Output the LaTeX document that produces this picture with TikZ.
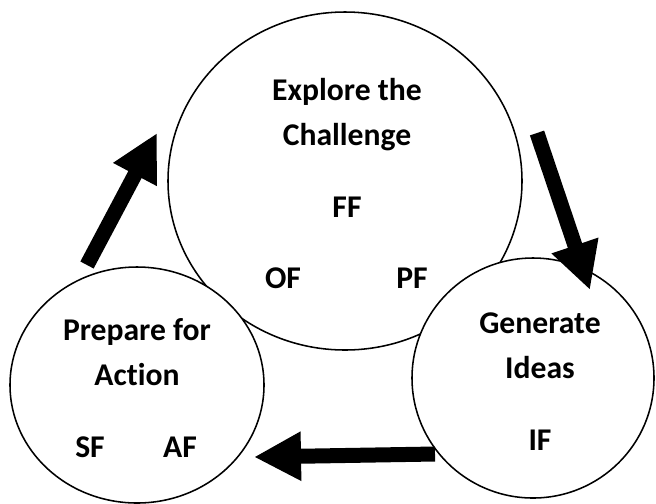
\documentclass[tikz,border=0pt]{standalone}
\usepackage{fontspec}
\setmainfont{Carlito}[Ligatures=NoCommon]
\usetikzlibrary{arrows.meta,positioning,shapes.geometric}

\begin{document}
\begin{tikzpicture}
		\tikzset{
			phase/.style={ellipse, draw=black, fill=white, line width=1.1pt, inner sep=0pt},
			lbl/.style={font=\bfseries\fontsize{22.5}{32}\selectfont, align=center, inner sep=0pt},
			bigarrow/.style={line width=0.375cm, -{Triangle[width=1.15cm, length=1.175cm]}}
		}
		\useasboundingbox (0,0) rectangle (16.4,-12.575);

		% The three phases (right one lies on top)
		\node[phase, minimum width=8.85cm, minimum height=8.45cm] (explore) at (8.625,-4.525) {};
		\node[phase, minimum width=6.35cm, minimum height=5.9cm] (prepare) at (3.425,-9.625) {};
		\node[phase, minimum width=6.05cm, minimum height=6cm] (generate) at (13.325,-9.45) {};

		% Labels in the big one
		\node[lbl] (exploretxt) at (8.675,-2.86) {Explore the\\Challenge};
		\node[lbl] (ff) at (8.675,-5.175) {FF};
		\node[lbl] (of) at (7.075,-6.95) {OF};
		\node[lbl] (pf) at (10.3,-6.95) {PF};

		% Labels in the right one
		\node[lbl] (generatetxt) at (13.5,-8.64) {Generate\\Ideas};
		\node[lbl] (if) at (13.5,-11.0) {IF};

		% Labels in the left one
		\node[lbl] (preparetxt) at (3.425,-8.81) {Prepare for\\Action};
		\node[lbl] (sf) at (2.25,-11.175) {SF};
		\node[lbl] (af) at (4.5,-11.175) {AF};

		% Ends of the arrows
		\coordinate (upfrom) at (2.175,-6.625);
		\coordinate (upto) at (3.925,-3.325);
		\coordinate (downfrom) at (13.425,-3.325);
		\coordinate (downto) at (14.75,-7.25);
		\coordinate (leftfrom) at (10.875,-11.35);
		\coordinate (leftto) at (6.35,-11.425);

		% Arrows of the cycle
		\draw[bigarrow] (upfrom) -- (upto);
		\draw[bigarrow] (downfrom) -- (downto);
		\draw[bigarrow] (leftfrom) -- (leftto);
	\end{tikzpicture}
\end{document}
